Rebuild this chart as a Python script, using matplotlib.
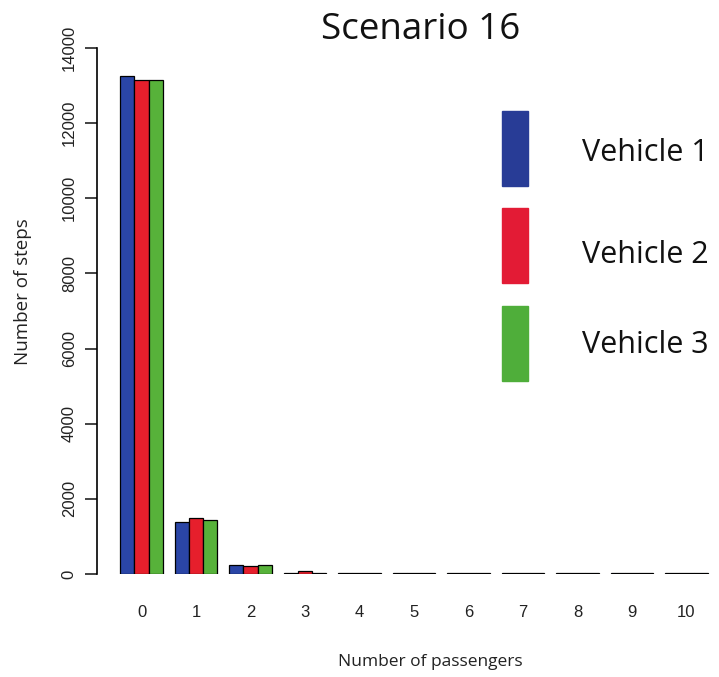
import numpy as np
import matplotlib
matplotlib.use("Agg")
import matplotlib.pyplot as plt
from matplotlib.patches import Rectangle

# steps spent with each passenger count, one list per vehicle
passengers = np.arange(11)
vehicle1 = [13250, 1390, 245, 20, 15, 15, 15, 15, 15, 15, 15]
vehicle2 = [13150, 1500, 210, 90, 15, 15, 15, 15, 15, 15, 15]
vehicle3 = [13150, 1445, 245, 25, 15, 15, 15, 15, 15, 15, 15]
series = [("Vehicle 1", vehicle1), ("Vehicle 2", vehicle2), ("Vehicle 3", vehicle3)]
colors = ["#2a45a6", "#e61f2c", "#57b23a"]
legend_colors = ["#283c96", "#e31b35", "#4fae3a"]

W, H = 719, 677
fig = plt.figure(figsize=(W / 100, H / 100), dpi=100)

# axes placed in pixel units
left, right, top, bottom = 97, 719, 48, 574
ax = fig.add_axes([left / W, (H - bottom) / H, (right - left) / W, (bottom - top) / H])

period = 54.5
x0 = 141.5
ax.set_xlim((left - x0) / period, (right - x0) / period)
ax.set_ylim(0, 14000)

w = 14.3 / period
for k, (name, vals) in enumerate(series):
    ax.bar(passengers + (k - 1) * w, vals, width=w, color=colors[k],
           edgecolor="black", linewidth=0.9)

for s in ["top", "right", "bottom"]:
    ax.spines[s].set_visible(False)
ax.spines["left"].set_linewidth(1.2)
ax.set_yticks(np.arange(0, 14001, 2000))
ax.tick_params(axis="y", length=8.5, width=1.2, pad=6, labelsize=12,
               labelrotation=90, colors="#222222")
for t in ax.get_yticklabels():
    t.set_verticalalignment("center")
    t.set_fontfamily("Liberation Sans")
ax.set_xticks([])

for p in passengers:
    ax.text(p, -0.074, str(p), transform=ax.get_xaxis_transform(),
            ha="center", va="center", fontsize=12, family="Liberation Sans",
            color="#222222")

fig.text(23 / W, 1 - 292 / H, "Number of steps", rotation=90, ha="center",
         va="center", fontsize=13.5, family="Open Sans", color="#222222")
fig.text(430 / W, 1 - 662 / H, "Number of passengers", ha="center",
         va="center", fontsize=12.5, family="Open Sans", color="#222222")
fig.text(421 / W, 1 - 30 / H, "Scenario 16", ha="center", va="center",
         fontsize=26.5, family="Open Sans", color="#111111")

# legend drawn as tall colour blocks with labels beside them
block_tops = [111, 208, 306]
label_y = [153, 255, 345]
for k, (name, _) in enumerate(series):
    y0 = block_tops[k]
    fig.patches.append(Rectangle((502 / W, 1 - (y0 + 75) / H), 26 / W, 75 / H,
                                 transform=fig.transFigure, color=legend_colors[k]))
    fig.text(582 / W, 1 - label_y[k] / H, name, ha="left", va="center",
             fontsize=22, family="Open Sans", color="#111111")

fig.savefig("out.png", dpi=100)
